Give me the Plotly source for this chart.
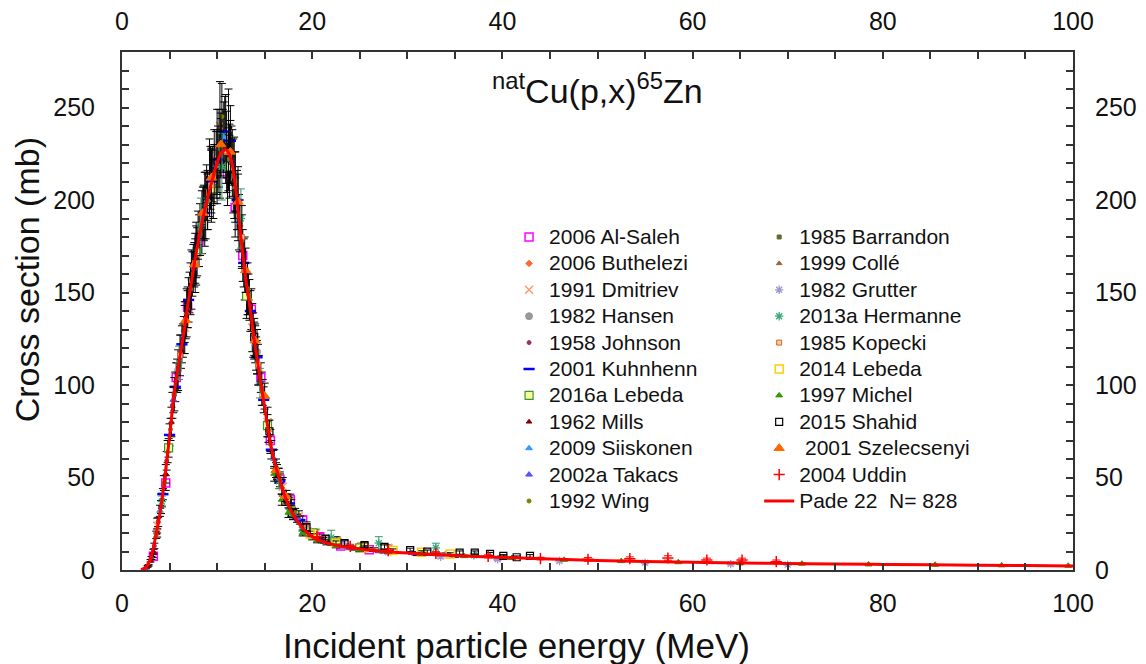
import plotly.graph_objects as go

# ---------------- data ----------------
fit_E = [2.0, 2.5, 3.0, 3.5, 4.0, 4.5, 5.0, 5.5, 6.0, 6.5, 7.0, 7.5, 8.0, 8.5, 9.0, 9.5, 10.0,
         10.5, 11.0, 11.5, 12.0, 12.5, 13.0, 13.5, 14.0, 14.5, 15.0, 15.5, 16.0, 16.5, 17.0,
         17.5, 18.0, 19.0, 20.0, 21.0, 22.0, 23.0, 24.0, 25.0, 27.0, 30.0, 33.0, 36.0, 40.0,
         45.0, 50.0, 55.0, 60.0, 65.0, 70.0, 75.0, 80.0, 85.0, 90.0, 95.0, 100.0]
fit_S = [0, 1.5, 6, 17, 31, 50, 72, 96, 113, 128, 146, 162, 177, 190, 201, 211, 220,
         226, 227, 221, 204, 180, 158, 140, 121, 104, 88, 72, 59, 50, 42,
         35, 30, 22.5, 18, 15.5, 14, 12.8, 12, 11.3, 10.3, 9.2, 8.3, 7.6, 6.8,
         5.9, 5.2, 4.6, 4.2, 3.8, 3.5, 3.2, 3.0, 2.8, 2.6, 2.4, 2.2]

alsaleh_E = [3.3, 4.6, 5.7, 6.9, 8.1, 9.3, 10.3, 11.1, 11.9, 12.7, 13.6, 14.6, 15.6, 16.6, 17.7, 19.0, 20.8, 23.0, 26.0]
alsaleh_S = [7.5, 47, 104, 142, 178, 212, 219, 214, 196, 170, 141, 104, 70, 49, 38, 27, 18, 13, 11]
alsaleh_D = [0.8, 4, 8, 11, 14, 17, 18, 17, 16, 14, 11, 8, 6, 4, 3, 2.2, 1.5, 1.1, 1.0]

buthelezi_E = [6.2, 7.1, 8.0, 8.9, 9.7, 10.6, 11.5, 12.4, 13.4, 14.4, 15.4, 16.5, 17.8, 19.4, 21.3]
buthelezi_S = [118, 150, 181, 204, 222, 232, 224, 186, 146, 108, 75, 51, 35, 24, 16]
buthelezi_D = [9, 11, 13, 15, 16, 17, 16, 14, 11, 8, 6, 4, 3, 2, 1.5]

dmitriev_E = [3.7, 6.6, 7.8, 9.2, 10.3, 11.2, 12.2, 13.7, 15.3, 16.9, 18.6, 20.4, 22.6, 25.2, 28.0]
dmitriev_S = [24, 131, 171, 212, 240, 236, 198, 131, 80, 45, 29, 20, 16, 13, 12]
dmitriev_D = [4, 14, 17, 21, 24, 24, 20, 13, 8, 5, 3, 2, 2, 1.5, 1.5]

hansen_E = [5.9, 7.3, 8.7, 10.0, 10.9, 11.8, 12.9, 14.2]
hansen_S = [108, 157, 195, 226, 233, 212, 163, 118]
hansen_D = [11, 16, 20, 23, 24, 22, 17, 12]

johnson_E = [2.5, 2.8, 3.1, 3.4, 3.8, 4.2, 4.7, 5.3, 5.8, 6.4, 6.9, 7.7, 8.6, 9.5, 10.4, 11.3]
johnson_S = [0.8, 2.5, 6.5, 13, 26, 38, 59, 89, 106, 124, 141, 167, 193, 214, 228, 225]
johnson_D = [0.2, 0.4, 0.8, 1.5, 2.5, 3.5, 5, 7, 8, 9, 10, 12, 14, 15, 16, 16]

kuhnhenn_E = [4.3, 5.0, 5.6, 6.3, 7.0, 7.8, 8.6, 9.4, 10.1, 10.8, 11.4, 12.1, 12.8, 13.5, 14.2, 14.9,
              15.7, 16.6, 17.6, 18.7, 20.0, 22.0, 24.5, 27.5, 31.0, 35.0]
kuhnhenn_S = [41, 73, 99, 122, 146, 172, 193, 210, 222, 237, 232, 200, 166, 140, 115, 92,
              65, 48, 36, 27, 19, 14.5, 11.8, 10.1, 8.6, 7.6]
kuhnhenn_D = [3, 6, 8, 10, 12, 14, 15, 17, 18, 19, 19, 16, 13, 11, 9, 7,
              5, 4, 3, 2.2, 1.6, 1.2, 1.0, 0.9, 0.8, 0.7]

lebeda16_E = [4.9, 7.9, 9.6, 11.3, 13.1, 15.3, 17.8, 20.1, 22.6, 25.0]
lebeda16_S = [66, 172, 206, 218, 148, 78, 32, 20, 15, 12]
lebeda16_D = [5, 13, 16, 17, 12, 6, 3, 2, 1.4, 1.2]

mills_E = [2.7, 3.0, 3.3, 3.7, 4.1, 4.6, 5.2]
mills_S = [2, 5, 10, 20, 34, 52, 80]
mills_D = [0.4, 0.7, 1.2, 2.2, 3.5, 5, 8]

siiskonen_E = [4.0, 6.5, 9.0, 10.7, 12.3, 14.0, 16.0, 18.0]
siiskonen_S = [32, 127, 200, 234, 188, 122, 60, 30]
siiskonen_D = [3, 10, 16, 19, 15, 10, 5, 2.5]

takacs_E = [5.4, 7.5, 9.9, 11.6, 13.9, 16.3, 18.4, 21.0, 24.0, 27.0, 30.5, 34.0]
takacs_S = [92, 163, 219, 220, 124, 53, 28, 16, 12, 10.2, 9.2, 8.5]
takacs_D = [7, 13, 18, 18, 10, 4, 2.2, 1.3, 1, 0.8, 0.7, 0.7]

wing_E = [3.6, 4.4, 5.1, 5.8, 6.6, 7.4, 8.2, 9.0, 9.7, 10.5, 11.2, 11.9, 12.6, 13.3, 14.1, 14.8,
          15.6, 16.4, 17.3, 18.2]
wing_S = [19, 47, 76, 104, 133, 160, 184, 199, 214, 245, 222, 210, 178, 149, 117, 96,
          68, 51, 40, 31]
wing_D = [2, 4, 6, 8, 10, 12, 14, 15, 16, 18, 17, 16, 14, 11, 9, 7, 5, 4, 3, 2.3]

barrandon_E = [5.5, 7.2, 8.8, 10.2, 11.7, 13.2, 14.7, 16.2, 18.0, 20.0]
barrandon_S = [95, 152, 197, 228, 213, 152, 98, 55, 30, 18]
barrandon_D = [9, 14, 18, 21, 20, 14, 9, 5, 2.8, 1.7]

colle_E = [4.8, 6.8, 8.4, 10.0, 11.9, 13.8, 16.8, 21.5, 26.5, 33.0, 40.0]
colle_S = [64, 139, 188, 218, 207, 127, 45, 15, 11, 8.8, 7.0]
colle_D = [6, 13, 17, 20, 19, 12, 4, 1.4, 1, 0.8, 0.7]

grutter_E = [19.5, 23.5, 28.0, 33.5, 39.5, 46.0, 55.0, 64.0, 70.0]
grutter_S = [21, 13, 9.5, 7.2, 5.8, 4.9, 3.9, 3.2, 2.9]
grutter_D = [2, 1.3, 1, 0.8, 0.6, 0.5, 0.4, 0.4, 0.3]

hermanne_E = [4.2, 6.0, 8.3, 10.5, 12.5, 14.5, 16.5, 19.0, 22.0, 27.0, 33.0, 37.0]
hermanne_S = [37, 112, 186, 218, 190, 101, 48, 21, 17.5, 14.5, 12.0, 8.0]
hermanne_D = [3, 9, 15, 18, 16, 8, 4, 2, 4, 3.5, 2.5, 0.8]

kopecki_E = [6.1, 7.7, 9.4, 11.0, 12.6, 14.3]
kopecki_S = [116, 166, 208, 226, 180, 111]
kopecki_D = [11, 16, 20, 22, 17, 11]

lebeda14_E = [17.2, 19.8, 22.5, 25.5, 28.5, 31.5, 34.5]
lebeda14_S = [38, 19.5, 14.5, 12.0, 10.5, 9.6, 8.6]
lebeda14_D = [3, 1.6, 1.2, 1.0, 0.9, 0.8, 0.7]

michel_E = [16.0, 16.8, 17.5, 19.0, 20.5, 22.5, 25.0, 28.0, 31.5, 36.0, 41.0, 46.5, 52.5, 58.5,
            65.0, 71.5, 78.5, 85.5, 92.5, 99.5]
michel_S = [52, 38, 31, 20, 16, 13, 11, 9.8, 8.8, 7.5, 6.5, 5.5, 4.8, 4.2,
            3.7, 3.4, 3.0, 2.8, 2.5, 2.3]
michel_D = [4, 3, 2.6, 1.6, 1.3, 1, 0.9, 0.8, 0.7, 0.6, 0.5, 0.4, 0.4, 0.3,
            0.3, 0.3, 0.2, 0.2, 0.2, 0.2]

shahid_E = [13.9, 15.5, 17.4, 19.4, 21.4, 23.4, 25.5, 27.6, 30.3, 32.1, 35.5, 37.1, 38.7, 40.1, 41.5, 42.9]
shahid_S = [126, 75, 38, 23, 17, 14.5, 13.5, 12.5, 10.8, 9.9, 9.4, 9.4, 8.7, 7.6, 6.9, 7.6]
shahid_D = [10, 6, 3, 2, 1.5, 1.3, 1.2, 1.1, 1.0, 0.9, 0.9, 0.9, 0.8, 0.7, 0.7, 0.7]

szelecsenyi_E = [6.7, 7.6, 8.5, 9.4, 10.4, 11.4, 12.2, 13.0, 14.0, 15.0, 16.2, 17.2]
szelecsenyi_S = [135, 165, 193, 212, 230, 226, 199, 162, 124, 94, 54, 40]
szelecsenyi_D = [10, 12, 14, 15, 17, 17, 15, 12, 9, 7, 4, 3]

uddin_E = [20.5, 24.0, 28.0, 33.0, 38.5, 44.0, 49.0, 53.4, 57.4, 61.5, 65.2, 68.8]
uddin_S = [18, 12.8, 10.6, 9.0, 7.4, 6.2, 5.8, 6.1, 6.5, 5.4, 5.4, 4.5]
uddin_D = [1.5, 1.1, 1.0, 0.9, 0.8, 0.7, 1.0, 1.0, 1.2, 1.0, 1.0, 0.9]

x_ticks = [0, 20, 40, 60, 80, 100]
y_ticks = [0, 50, 100, 150, 200, 250]

# ---------------- figure ----------------
FONT = "Liberation Sans, Arial, sans-serif"
LEG_PX = 21
fig = go.Figure()

def lbl(t):
    return '<span style="font-size:%dpx">%s</span>' % (LEG_PX, t)

def add(name, E, S, D, symbol, color, size, legend, line_color=None, line_w=1, err_color="black"):
    fig.add_trace(go.Scatter(
        x=E, y=S, mode="markers", name=lbl(name), legend=legend,
        error_y=dict(type="data", array=D, visible=True, color=err_color, thickness=1, width=4),
        marker=dict(symbol=symbol, color=color, size=size,
                    line=dict(color=line_color if line_color else color, width=line_w)),
    ))

# column 1
add("2006 Al-Saleh", alsaleh_E, alsaleh_S, alsaleh_D, "square-open", "#FF00FF", 8, "legend", line_w=1.5)
add("2006 Buthelezi", buthelezi_E, buthelezi_S, buthelezi_D, "diamond", "#FF6633", 5, "legend")
add("1991 Dmitriev", dmitriev_E, dmitriev_S, dmitriev_D, "x-thin-open", "#FF9966", 8, "legend", line_w=1.5)
add("1982 Hansen", hansen_E, hansen_S, hansen_D, "circle", "#999999", 7, "legend")
add("1958 Johnson", johnson_E, johnson_S, johnson_D, "circle", "#993366", 4, "legend")
add("2001 Kuhnhenn", kuhnhenn_E, kuhnhenn_S, kuhnhenn_D, "line-ew-open", "#0000FF", 8, "legend", line_w=2.5)
add("2016a Lebeda", lebeda16_E, lebeda16_S, lebeda16_D, "square", "#FFFF99", 8, "legend", line_color="#339933", line_w=1.2)
add("1962 Mills", mills_E, mills_S, mills_D, "triangle-up", "#800000", 5, "legend")
add("2009 Siiskonen", siiskonen_E, siiskonen_S, siiskonen_D, "triangle-up", "#3399FF", 6, "legend")
add("2002a Takacs", takacs_E, takacs_S, takacs_D, "triangle-up", "#5555FF", 6, "legend")
add("1992 Wing", wing_E, wing_S, wing_D, "circle", "#808000", 4, "legend")
# column 2
add("1985 Barrandon", barrandon_E, barrandon_S, barrandon_D, "square", "#666633", 4, "legend2")
add("1999 Collé", colle_E, colle_S, colle_D, "triangle-up", "#996633", 5, "legend2")
add("1982 Grutter", grutter_E, grutter_S, grutter_D, "asterisk-open", "#9999CC", 7, "legend2", line_w=1.3, err_color="#9999CC")
add("2013a Hermanne", hermanne_E, hermanne_S, hermanne_D, "asterisk-open", "#33AA77", 7, "legend2", line_w=1.3, err_color="#339966")
add("1985 Kopecki", kopecki_E, kopecki_S, kopecki_D, "square", "#FFCC99", 5, "legend2", line_color="#CC6633")
add("2014 Lebeda", lebeda14_E, lebeda14_S, lebeda14_D, "square-open", "#FFCC00", 8, "legend2", line_w=1.5)
add("1997 Michel", michel_E, michel_S, michel_D, "triangle-up", "#339900", 6, "legend2")
add("2015 Shahid", shahid_E, shahid_S, shahid_D, "square-open", "#000000", 7, "legend2", line_w=1.2)
add(" 2001 Szelecsenyi", szelecsenyi_E, szelecsenyi_S, szelecsenyi_D, "triangle-up", "#FF6600", 9, "legend2")
add("2004 Uddin", uddin_E, uddin_S, uddin_D, "cross-thin-open", "#FF0000", 8, "legend2", line_w=1.5, err_color="#FF0000")

fig.add_trace(go.Scatter(x=fit_E, y=fit_S, mode="lines", name=lbl("Pade 22  N= 828"), legend="legend2",
                         line=dict(color="#FF0000", width=3, shape="spline")))

# dummy trace for top/right axes
fig.add_trace(go.Scatter(x=[None], y=[None], xaxis="x2", yaxis="y2", showlegend=False, hoverinfo="skip"))

axis_common = dict(showgrid=False, zeroline=False, showline=True, linecolor="#333333", linewidth=2,
                   ticks="inside", ticklen=7, tickcolor="#333333", tickwidth=1.5, automargin=False,
                   tickfont=dict(family=FONT, size=25, color="#111111"))
minor_x = dict(dtick=5, tick0=0, ticks="inside", ticklen=7, tickcolor="#333333", tickwidth=1.5, showgrid=False)
minor_y = dict(dtick=10, tick0=0, ticks="inside", ticklen=7, tickcolor="#333333", tickwidth=1.5, showgrid=False)

# the page body adds an 8px offset, so the figure is shifted up/left by 8px to compensate
fig.update_layout(
    width=1146, height=664,
    margin=dict(l=114, r=81, t=44, b=102),
    paper_bgcolor="white", plot_bgcolor="white",
    font=dict(family=FONT, color="#111111"),
    xaxis=dict(range=[0, 100], tickmode="array", tickvals=x_ticks, side="bottom",
               minor=minor_x, ticklabelstandoff=10, **axis_common),
    xaxis2=dict(range=[0, 100], overlaying="x", side="top", tickmode="array", tickvals=x_ticks,
                minor=minor_x, ticklabelstandoff=10, **axis_common),
    yaxis=dict(range=[0, 280], tickmode="array", tickvals=y_ticks, side="left",
               minor=minor_y, ticklabelstandoff=20, **axis_common),
    yaxis2=dict(range=[0, 280], overlaying="y", side="right", tickmode="array", tickvals=y_ticks,
                minor=minor_y, ticklabelstandoff=15, **axis_common),
    legend=dict(x=0.407, y=0.678, xanchor="left", yanchor="top", bgcolor="rgba(0,0,0,0)",
                font=dict(family=FONT, size=18, color="#111111"), tracegroupgap=0, itemsizing="trace"),
    legend2=dict(x=0.670, y=0.678, xanchor="left", yanchor="top", bgcolor="rgba(0,0,0,0)",
                 font=dict(family=FONT, size=18, color="#111111"), tracegroupgap=0, itemsizing="trace"),
    showlegend=True,
    annotations=[
        dict(text="<sup>nat</sup>Cu(p,x)<sup>65</sup>Zn", xref="paper", yref="paper", x=0.5005, y=0.929,
             xanchor="center", yanchor="middle", showarrow=False, font=dict(family=FONT, size=34, color="#111111")),
        dict(text="Incident particle energy (MeV)", xref="paper", yref="paper", x=0.167, y=-0.145,
             xanchor="left", yanchor="middle", showarrow=False, font=dict(family=FONT, size=35, color="#111111")),
        dict(text="Cross section (mb)", xref="paper", yref="paper", x=-0.0995, y=0.56, textangle=-90,
             xanchor="center", yanchor="middle", showarrow=False, borderpad=0,
             font=dict(family=FONT, size=34, color="#111111")),
    ],
)

fig.write_html("out.html")
